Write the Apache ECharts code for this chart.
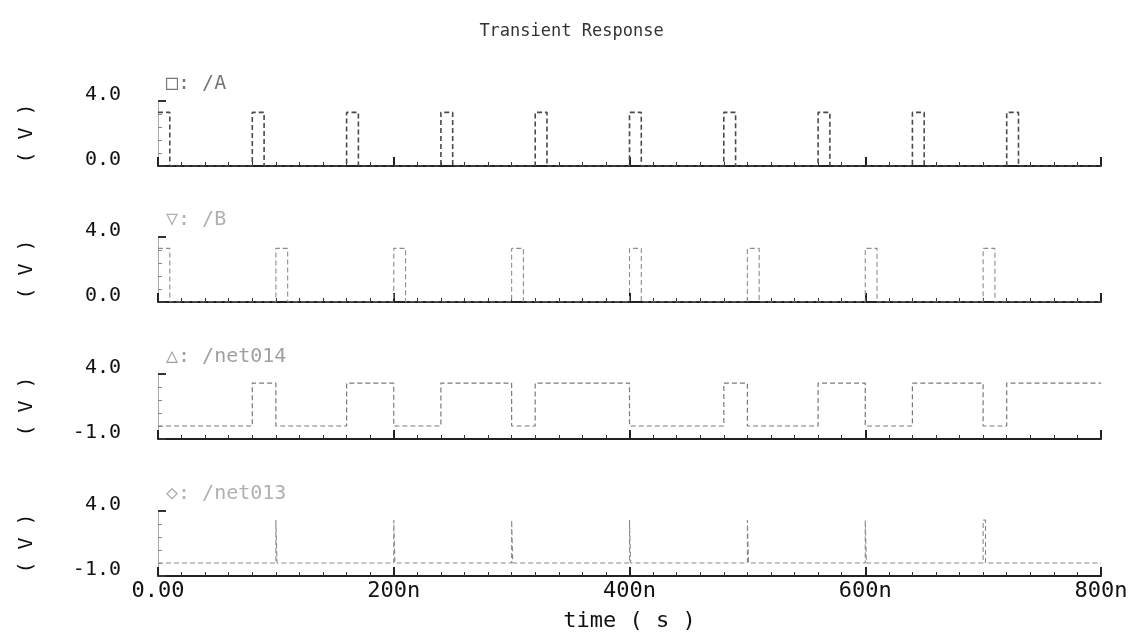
<!DOCTYPE html>
<html>
<head>
<meta charset="utf-8">
<script src="https://cdn.jsdelivr.net/npm/echarts@6/dist/echarts.min.js"></script>
<style>
  html, body { margin: 0; padding: 0; background: #fff; }
  #chart { width: 1143px; height: 639px; }
</style>
</head>
<body>
<div id="chart"></div>
<script>
// edge times (ns) and the level (V) the trace takes from that time on
const aTimes = [0, 10, 80, 90, 160, 170, 240, 250, 320, 330, 400, 410, 480, 490, 560, 570, 640, 650, 720, 730, 800];
const aLevels = [3.3, 0, 3.3, 0, 3.3, 0, 3.3, 0, 3.3, 0, 3.3, 0, 3.3, 0, 3.3, 0, 3.3, 0, 3.3, 0, 0];

const bTimes = [0, 10, 100, 110, 200, 210, 300, 310, 400, 410, 500, 510, 600, 610, 700, 710, 800];
const bLevels = [3.3, 0, 3.3, 0, 3.3, 0, 3.3, 0, 3.3, 0, 3.3, 0, 3.3, 0, 3.3, 0, 0];

const net014Times = [0, 80, 100, 160, 200, 240, 300, 320, 400, 480, 500, 560, 600, 640, 700, 720, 800];
const net014Levels = [0, 3.3, 0, 3.3, 0, 3.3, 0, 3.3, 0, 3.3, 0, 3.3, 0, 3.3, 0, 3.3, 3.3];

const net013Times = [0, 100, 101, 200, 201, 300, 301, 400, 401, 500, 501, 600, 601, 700, 702, 800];
const net013Levels = [0, 3.3, 0, 3.3, 0, 3.3, 0, 3.3, 0, 3.3, 0, 3.3, 0, 3.3, 0, 0];

const legendNames = ['□: /A', '▽: /B', '△: /net014', '◇: /net013'];
const yMins = [0, 0, -1, -1];
const yMaxs = [4, 4, 4, 4];
const xTickLabels = { 0: '0.00', 200: '200n', 400: '400n', 600: '600n', 800: '800n' };

const traces = [
  { t: aTimes, v: aLevels, color: '#4a4a4a', width: 1.6 },
  { t: bTimes, v: bLevels, color: '#8c8c8c', width: 1.1 },
  { t: net014Times, v: net014Levels, color: '#7a7a7a', width: 1.2 },
  { t: net013Times, v: net013Levels, color: '#8a8a8a', width: 1.1 }
];
const legendColors = ['#777', '#b0b0b0', '#a0a0a0', '#b0b0b0'];

const gridTops = [101, 237, 374, 511];
const gridHeight = 65;
const mono = '"DejaVu Sans Mono", monospace';

const chart = echarts.init(document.getElementById('chart'));

const grids = [], xAxes = [], yAxes = [], series = [], texts = [];

traces.forEach((tr, i) => {
  const last = i === traces.length - 1;
  grids.push({ left: 158, right: 42, top: gridTops[i], height: gridHeight });
  xAxes.push({
    type: 'value', gridIndex: i, min: 0, max: 800, interval: 200,
    axisLine: { onZero: false, lineStyle: { color: '#222', width: 2 } },
    axisTick: { inside: true, length: 9, lineStyle: { color: '#222', width: 2 } },
    minorTick: { show: true, splitNumber: 10, length: 4, lineStyle: { color: '#333', width: 1 } },
    splitLine: { show: false },
    axisLabel: {
      show: last, margin: 4, color: '#111', fontFamily: mono, fontSize: 22,
      formatter: (v) => xTickLabels[v] || ''
    },
    name: last ? 'time ( s )' : '',
    nameLocation: 'middle', nameGap: 34,
    nameTextStyle: { color: '#111', fontFamily: mono, fontSize: 22 }
  });
  yAxes.push({
    type: 'value', gridIndex: i, min: yMins[i], max: yMaxs[i],
    interval: yMaxs[i] - yMins[i],
    axisLine: { show: true, onZero: false, lineStyle: { color: '#aaa', width: 1 } },
    axisTick: { inside: true, length: 8, lineStyle: { color: '#333', width: 2 } },
    minorTick: { show: true, splitNumber: 5, length: 4, lineStyle: { color: '#888', width: 1 } },
    splitLine: { show: false },
    axisLabel: {
      margin: 37, color: '#111', fontFamily: mono, fontSize: 20,
      verticalAlign: 'bottom', lineHeight: 13,
      formatter: (v) => v.toFixed(1)
    },
    name: '( V )', nameLocation: 'middle', nameGap: 121, nameRotate: 90,
    nameTextStyle: { color: '#111', fontFamily: mono, fontSize: 20 }
  });
  series.push({
    name: legendNames[i], type: 'line', xAxisIndex: i, yAxisIndex: i,
    step: 'end', symbol: 'none', animation: false,
    data: tr.t.map((t, k) => [t, tr.v[k]]),
    lineStyle: { color: tr.color, width: tr.width, type: [5, 3] }
  });
  texts.push({
    type: 'text', left: 166, top: gridTops[i] - 27,
    style: { text: legendNames[i], fill: legendColors[i], font: '20px ' + mono }
  });
});

chart.setOption({
  backgroundColor: '#fff',
  title: {
    text: 'Transient Response', left: 'center', top: 18,
    textStyle: { color: '#333', fontFamily: mono, fontSize: 17, fontWeight: 'normal' }
  },
  grid: grids,
  xAxis: xAxes,
  yAxis: yAxes,
  series: series,
  graphic: texts
});
</script>
</body>
</html>
